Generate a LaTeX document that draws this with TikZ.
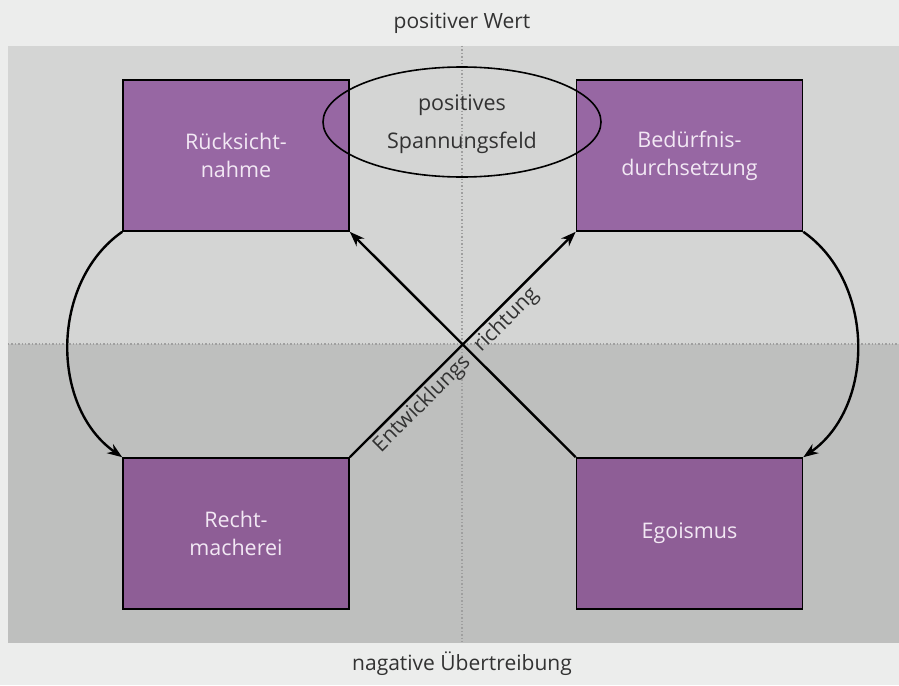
\documentclass[tikz,border=0pt]{standalone}
\usepackage{fontspec}
\setmainfont{Open Sans}
\usepackage{xcolor}
\usetikzlibrary{shapes.geometric,arrows.meta}

\definecolor{outerbg}{RGB}{236,237,236}
\definecolor{upperbg}{RGB}{212,213,212}
\definecolor{lowerbg}{RGB}{190,191,190}
\definecolor{boxtop}{RGB}{151,103,163}
\definecolor{boxbottom}{RGB}{142,94,150}
\definecolor{boxtext}{RGB}{242,232,244}
\definecolor{labeltext}{RGB}{50,50,50}

\begin{document}
\begin{tikzpicture}[x=1pt, y=-1pt,
    quality/.style={draw=black, line width=1.6pt, minimum width=226pt, minimum height=151pt,
                    text=boxtext, align=center, font=\fontsize{21.5}{28}\selectfont},
    axislabel/.style={text=labeltext, font=\fontsize{21}{24}\selectfont},
    divider/.style={draw=gray!75, line width=1.4pt, dotted},
    flow/.style={line width=2.4pt, -{Stealth[length=15pt,width=11pt]}},
    direction/.style={sloped, inner sep=2pt, text=labeltext, font=\fontsize{21}{24}\selectfont}]

    \useasboundingbox (0,0) rectangle (899,685);
    \fill[outerbg] (0,0) rectangle (899,685);
    \fill[upperbg] (8,46) rectangle (899,344);
    \fill[lowerbg] (8,344) rectangle (899,643);
    \draw[divider] (8,344) -- (899,344);
    \draw[divider] (462,46) -- (462,643);

    \node[axislabel] (wert) at (462,23) {positiver Wert};
    \node[axislabel] (uebertreibung) at (462,664) {nagative Übertreibung};

    \node[quality, fill=boxtop] (tl) at (236,155.5) {Rücksicht-\\nahme};
    \node[quality, fill=boxtop] (tr) at (689.5,155.5) {Bedürfnis-\\durchsetzung};
    \node[quality, fill=boxbottom] (bl) at (236,533.5) {Recht-\\macherei};
    \node[quality, fill=boxbottom] (br) at (689.5,533.5) {Egoismus};

    \node[ellipse, draw=black, line width=1.6pt, minimum width=278pt, minimum height=110pt,
          text=labeltext, align=center, font=\fontsize{21.5}{28}\selectfont, text depth=-4pt]
          (feld) at (462,122) {positives\\[10pt]Spannungsfeld};

    \draw[flow] (bl.north east) --
          node[direction, anchor=north east, xshift=-4pt] (entw) {Entwicklungs}
          node[direction, anchor=north west, xshift=4pt] (richt) {richtung} (tr.south west);
    \draw[flow] (br.north west) -- (tl.south east);
    \draw[flow] (tl.south west) to[bend right=55] (bl.north west);
    \draw[flow] (tr.south east) to[bend left=55] (br.north east);
\end{tikzpicture}
\end{document}
